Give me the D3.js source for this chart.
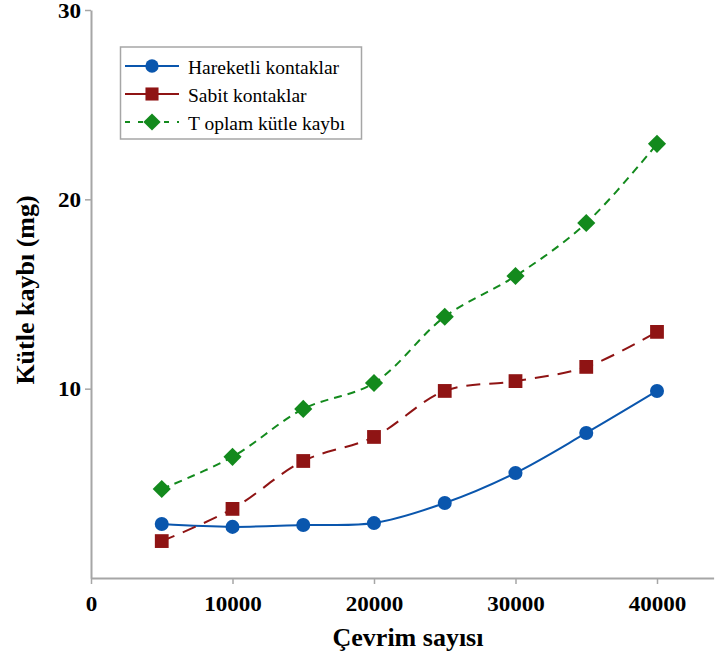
<!DOCTYPE html>
<html>
<head>
<meta charset="utf-8">
<script src="https://cdn.jsdelivr.net/npm/d3@7/dist/d3.min.js"></script>
<style>
  body { margin: 0; background: #fff; }
  svg { display: block; }
</style>
</head>
<body>
<svg id="chart" width="718" height="659"></svg>
<script>
// Cycle counts (x) and mass loss in mg for each series
const cycles = [5000, 10000, 15000, 20000, 25000, 30000, 35000, 40000];
const hareketli = [2.85, 2.7, 2.8, 2.9, 3.96, 5.55, 7.66, 9.88];
const sabit = [1.95, 3.65, 6.18, 7.45, 9.88, 10.4, 11.15, 13.0];
const toplam = [4.7, 6.4, 8.93, 10.3, 13.8, 15.95, 18.75, 22.93];
const xTicks = [0, 10000, 20000, 30000, 40000];
const yTicks = [10, 20, 30];
const seriesNames = ["Hareketli kontaklar", "Sabit kontaklar", "T oplam kütle kaybı"];

const FONT = "'Liberation Serif', 'Times New Roman', 'DejaVu Serif', serif";

const svg = d3.select("#chart");
const x = d3.scaleLinear().domain([0, 44000]).range([91, 713.6]);
const y = d3.scaleLinear().domain([0, 30]).range([578, 10]);

const axisColor = "#a6a6a6";

// Axes
const xAxis = svg.append("g").attr("transform", "translate(0,578)")
  .call(d3.axisBottom(x).tickValues(xTicks).tickFormat(d3.format("d")).tickSize(6).tickSizeOuter(0));
const yAxis = svg.append("g").attr("transform", "translate(91,0)")
  .call(d3.axisLeft(y).tickValues(yTicks).tickSize(6).tickSizeOuter(0));
[xAxis, yAxis].forEach(g => {
  g.attr("font-family", FONT);
  g.select(".domain").attr("stroke", axisColor).attr("stroke-width", 2);
  g.selectAll(".tick line").attr("stroke", axisColor).attr("stroke-width", 1.5);
  g.selectAll(".tick text").attr("fill", "#000").attr("font-size", 21).attr("font-weight", "bold")
    .attr("transform", "scale(1.1,1)");
});
xAxis.selectAll(".tick text").attr("y", 9).attr("dy", "1.15em");
yAxis.selectAll(".tick text").attr("x", -9).attr("dy", "0.34em");

// Axis titles
svg.append("text").attr("x", 408).attr("y", 646).attr("text-anchor", "middle")
  .attr("font-family", FONT).attr("font-size", 26).attr("font-weight", "bold").text("Çevrim sayısı");
svg.append("text").attr("transform", "translate(34,290) rotate(-90)").attr("text-anchor", "middle")
  .attr("font-family", FONT).attr("font-size", 26).attr("font-weight", "bold").text("Kütle kaybı (mg)");

const diamond = { draw(ctx, size) {
  const r = Math.sqrt(size / 2);
  ctx.moveTo(0, -r); ctx.lineTo(r, 0); ctx.lineTo(0, r); ctx.lineTo(-r, 0); ctx.closePath();
} };

const series = [
  { name: seriesNames[0], values: hareketli, color: "#0a56ad", dash: null, legendDash: null, symbol: d3.symbolCircle, size: 155 },
  { name: seriesNames[1], values: sabit, color: "#8f1414", dash: "14,9", legendDash: null, symbol: d3.symbolSquare, size: 190 },
  { name: seriesNames[2], values: toplam, color: "#138a1d", dash: "8,6", legendDash: "5,8", symbol: diamond, size: 165 }
];

const line = d3.line().x(d => x(d[0])).y(d => y(d[1])).curve(d3.curveCatmullRom.alpha(0.5));

series.forEach(s => {
  const pts = cycles.map((c, i) => [c, s.values[i]]);
  svg.append("path").datum(pts).attr("d", line)
    .attr("fill", "none").attr("stroke", s.color).attr("stroke-width", 2)
    .attr("stroke-dasharray", s.dash);
  svg.append("g").selectAll("path").data(pts).join("path")
    .attr("transform", d => `translate(${x(d[0])},${y(d[1])})`)
    .attr("d", d3.symbol().type(s.symbol).size(s.size))
    .attr("fill", s.color);
});

// Legend
const lg = svg.append("g");
lg.append("rect").attr("x", 120.5).attr("y", 47).attr("width", 241).attr("height", 92)
  .attr("fill", "#fff").attr("stroke", "#a6a6a6").attr("stroke-width", 1.5);
series.forEach((s, i) => {
  const ly = 66 + i * 28;
  lg.append("line").attr("x1", 125).attr("x2", 179).attr("y1", ly).attr("y2", ly)
    .attr("stroke", s.color).attr("stroke-width", 2)
    .attr("stroke-dasharray", s.legendDash);
  lg.append("path").attr("transform", `translate(152,${ly})`)
    .attr("d", d3.symbol().type(s.symbol).size(s.size * 0.9)).attr("fill", s.color);
  lg.append("text").attr("x", 188).attr("y", ly + 7.5).attr("font-family", FONT)
    .attr("font-size", 19.5).text(s.name);
});
</script>
</body>
</html>
